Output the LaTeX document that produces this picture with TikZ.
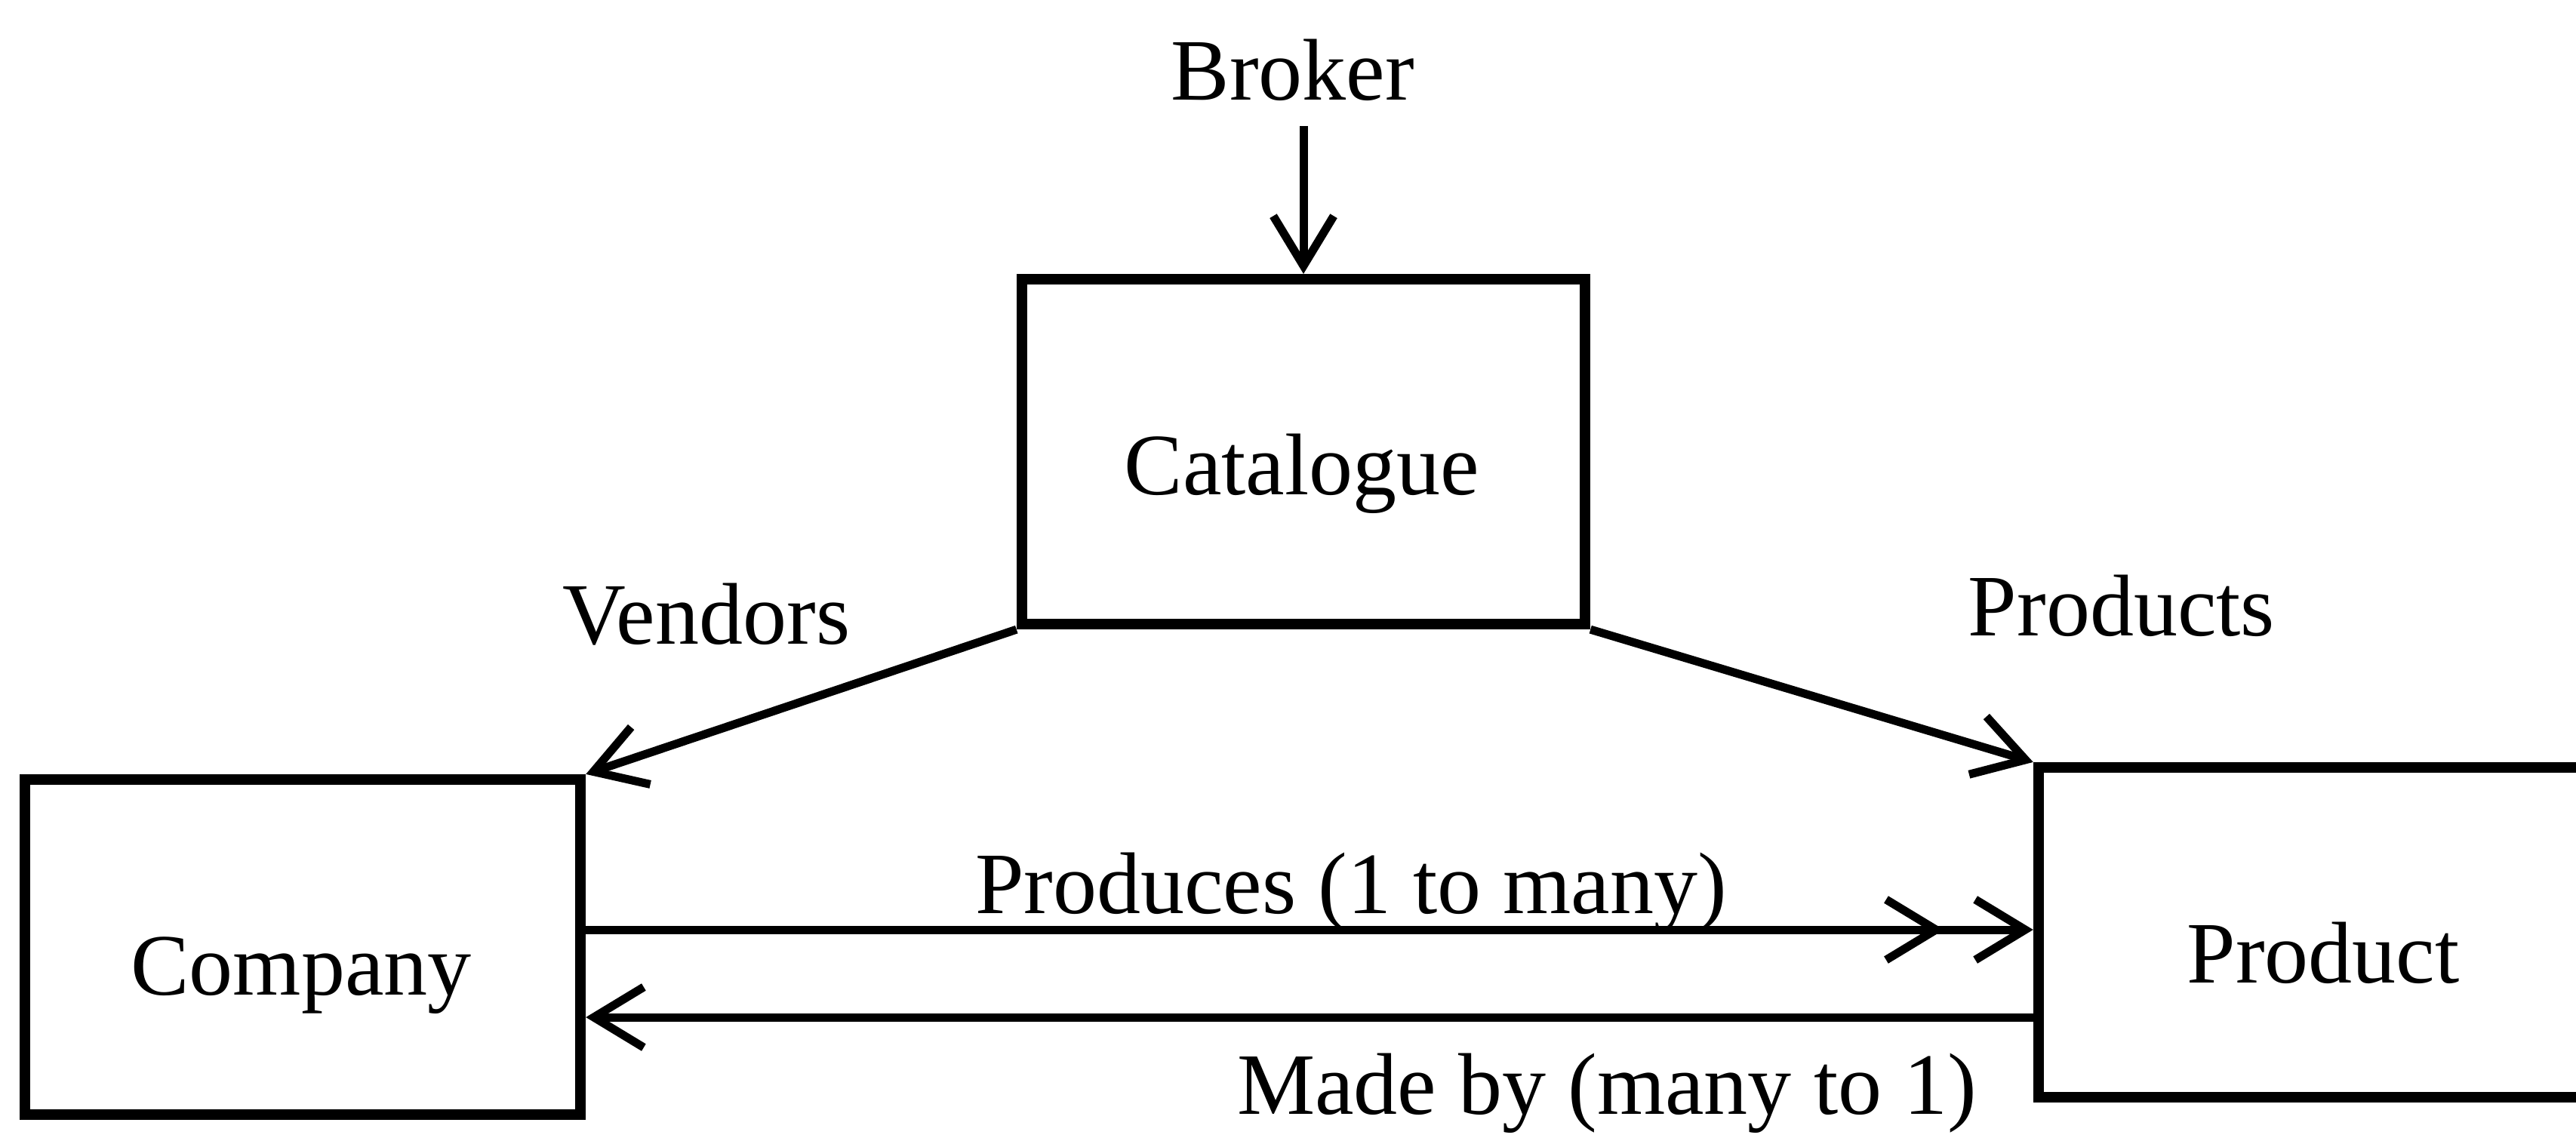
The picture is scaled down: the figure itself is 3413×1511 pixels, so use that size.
\documentclass[tikz,border=0pt]{standalone}
\usepackage{fontspec}
\setmainfont{Liberation Serif}
\usetikzlibrary{arrows.meta}
\begin{document}
\begin{tikzpicture}[x=0.01cm,y=-0.01cm,
  box/.style={draw, line width=0.14cm, inner sep=0pt},
  lbl/.style={font=\fontsize{33}{40}\selectfont, anchor=base, inner sep=0pt},
  conn/.style={line width=0.11cm, -{Straight Barb[length=0.66cm,width=0.8cm]}},
  dconn/.style={line width=0.11cm,
    -{Straight Barb[length=0.66cm,width=0.8cm,sep=0.36cm]Straight Barb[length=0.66cm,width=0.8cm]}}
]
\useasboundingbox (0,0) rectangle (3413,1511);

% entity boxes
\node[box, minimum width=7.46cm, minimum height=4.57cm] (cat) at (1727,598.5) {};
\node[box, minimum width=7.36cm, minimum height=4.44cm] (company) at (401,1255) {};
\node[box, minimum width=7.39cm, minimum height=4.37cm] (product) at (3070.5,1235.5) {};

% texts
\node[lbl] (broker)    at (1713,132)  {Broker};
\node[lbl] (catT)      at (1725,655)  {Catalogue};
\node[lbl] (vendT)     at (936,853)   {Vendors};
\node[lbl] (prodsT)    at (2811,842)  {Products};
\node[lbl] (producesT) at (1790,1210) {Produces (1 to many)};
\node[lbl] (companyT)  at (399,1318)  {Company};
\node[lbl] (productT)  at (3078,1302) {Product};
\node[lbl] (madeT)     at (2129,1476) {Made by (many to 1)};

% connectors
\coordinate (bTop) at (cat.north |- broker.south);
\draw[conn] ([yshift=-0.33cm]bTop) -- (cat.north);
\draw[conn] (cat.south west) -- (company.north east);
\draw[conn] (cat.south east) -- (product.north west);

\coordinate (pY) at (0,1232);
\coordinate (mY) at (0,1348);
\draw[dconn] (company.east |- pY) -- (product.west |- pY);
\draw[conn] (product.west |- mY) -- (company.east |- mY);
\end{tikzpicture}
\end{document}
